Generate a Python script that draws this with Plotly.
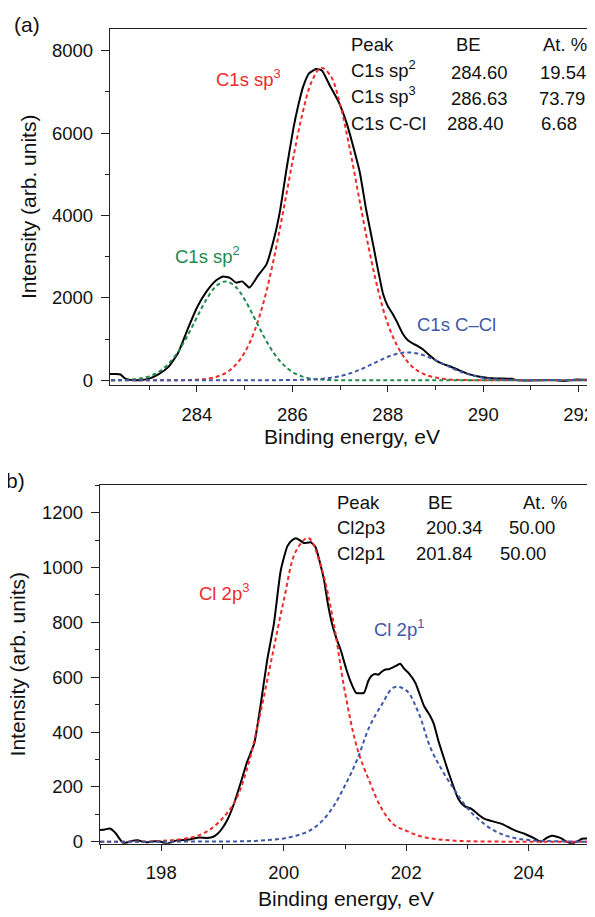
import plotly.graph_objects as go

# ---------------- Panel (a): C1s ----------------
a_obs_x = [282.18, 282.3, 282.4, 282.5, 282.6, 282.7, 282.85, 283.0, 283.2, 283.4, 283.6, 283.8,
           284.0, 284.2, 284.4, 284.55, 284.7, 284.82, 284.95, 285.1, 285.28, 285.46, 285.63, 285.74,
           285.88, 286.02, 286.12, 286.23, 286.35, 286.5, 286.62, 286.79, 286.96, 287.13, 287.27, 287.41,
           287.55, 287.7, 287.8, 287.9, 288.0, 288.1, 288.2, 288.31, 288.42, 288.52, 288.63, 288.74,
           288.88, 289.02, 289.15, 289.3, 289.5, 289.7, 289.9, 290.1, 290.3, 290.5, 290.6, 290.7,
           290.9, 291.1, 291.3, 291.5, 291.7, 291.9, 292.1, 292.32]
a_obs_y = [150, 155, 140, 40, 10, 0, 5, 40, 150, 320, 650, 1220,
           1760, 2150, 2420, 2520, 2480, 2370, 2400, 2250, 2540, 2820, 3500, 4100,
           5140, 6100, 6650, 7140, 7450, 7555, 7520, 7140, 6780, 6270, 5700, 5065,
           4120, 3250, 2650, 2100, 1800, 1615, 1400, 1135, 970, 895, 830, 745,
           600, 470, 400, 340, 240, 150, 90, 55, 45, 40, 35, 5,
           -5, 0, 5, 5, -15, 15, 15, 5]

a_fit_x = [282.2, 282.4, 282.6, 282.8, 283.0, 283.2, 283.4, 283.6, 283.8, 284.0,
           284.2, 284.4, 284.6, 284.8, 285.0, 285.2, 285.4, 285.6, 285.8, 286.0,
           286.2, 286.4, 286.6, 286.8, 287.0, 287.2, 287.4, 287.6, 287.8, 288.0,
           288.2, 288.4, 288.6, 288.8, 289.0, 289.2, 289.4, 289.6, 289.8, 290.0,
           290.2, 290.4, 290.6, 290.8, 291.0, 291.2, 291.4, 291.6, 291.8, 292.0,
           292.2, 292.32]
a_sp2 = [2, 5, 16, 41, 96, 203, 391, 681, 1072, 1525,
         1962, 2282, 2400, 2282, 1962, 1525, 1072, 681, 391, 203,
         96, 41, 16, 5, 2, 0, 0, 0, 0, 0,
         0, 0, 0, 0, 0, 0, 0, 0, 0, 0,
         0, 0, 0, 0, 0, 0, 0, 0, 0, 0,
         0, 0]
a_sp3 = [0, 0, 0, 0, 0, 0, 0, 2, 5, 14,
         35, 81, 176, 357, 671, 1173, 1905, 2881, 4047, 5282,
         6411, 7232, 7585, 7392, 6697, 5642, 4416, 3216, 2175, 1367,
         830, 470, 250, 130, 65, 30, 12, 5, 2, 0,
         0, 0, 0, 0, 0, 0, 0, 0, 0, 0,
         0, 0]
a_ccl = [0, 0, 0, 0, 0, 0, 0, 0, 0, 0,
         0, 0, 0, 0, 1, 1, 2, 3, 4, 6,
         12, 18, 33, 60, 100, 165, 250, 354, 466, 570,
         644, 675, 654, 588, 488, 376, 268, 177, 108, 61,
         32, 16, 7, 3, 1, 0, 0, 0, 0, 0,
         0, 0]

a_table_head = ["Peak", "BE", "At. %"]
a_table_peaks = ["C1s sp<sup>2</sup>", "C1s sp<sup>3</sup>", "C1s C-Cl"]
a_table_be = ["284.60", "286.63", "288.40"]
a_table_at = ["19.54", "73.79", "6.68"]

# ---------------- Panel (b): Cl 2p ----------------
b_obs_x = [197.0, 197.08, 197.16, 197.26, 197.32, 197.38, 197.46, 197.54, 197.62, 197.7,
           197.8, 197.93, 198.0, 198.08, 198.15, 198.25, 198.35, 198.46, 198.55, 198.63,
           198.75, 198.85, 198.92, 199.0, 199.08, 199.18, 199.3, 199.4, 199.52, 199.62,
           199.73, 199.84, 199.95, 200.06, 200.14, 200.2, 200.27, 200.33, 200.44, 200.52,
           200.6, 200.66, 200.72, 200.8, 200.87, 200.93, 201.02, 201.1, 201.18, 201.31,
           201.38, 201.43, 201.49, 201.54, 201.6, 201.65, 201.73, 201.82, 201.9, 201.97,
           202.04, 202.15, 202.29, 202.38, 202.45, 202.52, 202.6, 202.69, 202.85, 202.95,
           203.07, 203.17, 203.28, 203.4, 203.56, 203.72, 203.85, 203.93, 204.02, 204.1,
           204.2, 204.3, 204.38, 204.46, 204.54, 204.62, 204.7, 204.8, 204.87, 204.95, 205.0]
b_obs_y = [43, 45, 48, 30, 10, -5, -2, 4, 5, 0,
           -2, 3, 0, -8, -3, 5, 6, 8, 13, 15,
           14, 18, 29, 50, 80, 134, 217, 290, 360, 495,
           663, 796, 988, 1078, 1100, 1107, 1098, 1089, 1092, 1074,
           1010, 952, 868, 785, 735, 699, 630, 579, 543, 543,
           586, 604, 612, 609, 620, 627, 630, 640, 649, 630,
           615, 579, 495, 463, 430, 372, 315, 253, 156, 130,
           119, 100, 83, 75, 65, 47, 35, 29, 20, 11,
           0, 15, 22, 18, 11, 0, -7, 2, 11, 12, 10]

b_fit_x = [197.0, 197.2, 197.4, 197.6, 197.8, 198.0, 198.2, 198.4, 198.6, 198.8,
           199.0, 199.2, 199.4, 199.6, 199.8, 200.0, 200.2, 200.4, 200.6, 200.8,
           201.0, 201.2, 201.4, 201.6, 201.8, 202.0, 202.2, 202.4, 202.6, 202.8,
           203.0, 203.2, 203.4, 203.6, 203.8, 204.0, 204.2, 204.4, 204.6, 204.8, 205.0]
b_2p3 = [0, 0, 0, 1, 1, 3, 6, 12, 22, 45,
         85, 145, 265, 450, 665, 880, 1060, 1108, 1010, 815,
         545, 340, 220, 120, 62, 40, 22, 12, 7, 4,
         2, 1, 1, 0, 0, 0, 0, 0, 0, 0, 0]
b_2p1 = [0, 0, 0, 0, 0, 0, 0, 1, 1, 1,
         1, 1, 2, 4, 7, 12, 22, 38, 70, 125,
         205, 300, 420, 500, 563, 552, 470, 340, 255, 185,
         122, 78, 45, 24, 12, 6, 3, 2, 1, 0, 0]

b_table_head = ["Peak", "BE", "At. %"]
b_table_peaks = ["Cl2p3", "Cl2p1"]
b_table_be = ["200.34", "201.84"]
b_table_at = ["50.00", "50.00"]

# ---------------- styling ----------------
OFF = 8            # the page body has an 8px margin: compensate
W, H = 595 - OFF, 917 - OFF
FONT = "Liberation Sans, Arial, Helvetica, sans-serif"
RED = "#EE2B2B"
GREEN = "#1E8A4C"
BLUE = "#3F58A8"
AX = "#222222"
TICK = 18.5
TITLE = 21
TXT = 18.5


def px(xp):
    return (xp - OFF) / W


def py(yp):
    return 1 - (yp - OFF) / H


fig = go.Figure()

dash = "4px,3px"
fig.add_trace(go.Scatter(x=a_obs_x, y=a_obs_y, mode="lines", line=dict(color="black", width=2, shape="spline", smoothing=0.5),
                         xaxis="x", yaxis="y", showlegend=False))
fig.add_trace(go.Scatter(x=a_fit_x, y=a_sp3, mode="lines", line=dict(color=RED, width=2, dash=dash, shape="spline"),
                         xaxis="x", yaxis="y", showlegend=False))
fig.add_trace(go.Scatter(x=a_fit_x, y=a_sp2, mode="lines", line=dict(color=GREEN, width=2, dash=dash, shape="spline"),
                         xaxis="x", yaxis="y", showlegend=False))
fig.add_trace(go.Scatter(x=a_fit_x, y=a_ccl, mode="lines", line=dict(color=BLUE, width=2, dash=dash, shape="spline"),
                         xaxis="x", yaxis="y", showlegend=False))

fig.add_trace(go.Scatter(x=b_obs_x, y=b_obs_y, mode="lines", line=dict(color="black", width=2, shape="spline", smoothing=0.5),
                         xaxis="x2", yaxis="y2", showlegend=False))
fig.add_trace(go.Scatter(x=b_fit_x, y=b_2p3, mode="lines", line=dict(color=RED, width=2, dash=dash, shape="spline"),
                         xaxis="x2", yaxis="y2", showlegend=False))
fig.add_trace(go.Scatter(x=b_fit_x, y=b_2p1, mode="lines", line=dict(color=BLUE, width=2, dash=dash, shape="spline"),
                         xaxis="x2", yaxis="y2", showlegend=False))


def xax(domain, rng, anchor):
    return dict(domain=domain, range=rng, anchor=anchor, showgrid=False, zeroline=False,
                showline=True, linecolor=AX, linewidth=1.3, mirror=True,
                ticks="outside", ticklen=6, tickwidth=1.2, tickcolor=AX, dtick=2, tick0=0,
                tickfont=dict(family=FONT, size=TICK, color="#111"), ticklabelstandoff=6,
                minor=dict(dtick=1, tick0=0, ticks="outside", ticklen=4, tickwidth=1.2, tickcolor=AX))


def yax(domain, rng, anchor, dt, mdt):
    return dict(domain=domain, range=rng, anchor=anchor, showgrid=False, zeroline=False,
                showline=True, linecolor=AX, linewidth=1.3, mirror=True,
                ticks="outside", ticklen=8, tickwidth=1.2, tickcolor=AX, dtick=dt, tick0=0,
                tickfont=dict(family=FONT, size=TICK, color="#111"), ticklabelstandoff=4,
                minor=dict(dtick=mdt, tick0=0, ticks="outside", ticklen=4, tickwidth=1.2, tickcolor=AX))


fig.update_layout(
    width=W, height=H, margin=dict(l=0, r=0, t=0, b=0),
    paper_bgcolor="white", plot_bgcolor="white",
    font=dict(family=FONT, color="#111"),
    xaxis=xax([px(110), px(594)], [282.18, 292.32], "y"),
    yaxis=yax([py(389), py(29)], [-120, 8530], "x", 2000, 1000),
    xaxis2=xax([px(100), px(590)], [197.0, 205.0], "y2"),
    yaxis2=yax([py(852), py(490)], [-7, 1300], "x2", 200, 100),
)

ann = []


def txt(text, x, y, xref, yref, color="#111", size=TXT, xanchor="left", yanchor="middle", angle=0):
    ann.append(dict(text=text, x=x, y=y, xref=xref, yref=yref, showarrow=False, xanchor=xanchor,
                    yanchor=yanchor, textangle=angle, font=dict(family=FONT, size=size, color=color)))


# panel letters and axis titles
txt("(a)", px(27), py(25), "paper", "paper", size=TITLE, xanchor="center")
txt("(b)", px(12), py(485), "paper", "paper", size=TITLE, xanchor="center")
txt("Binding energy, eV", px(352), py(441), "paper", "paper", size=TITLE, xanchor="center")
txt("Binding energy, eV", px(346), py(907), "paper", "paper", size=TITLE, xanchor="center")
txt("Intensity (arb. units)", px(28), py(209), "paper", "paper", size=TITLE, xanchor="center", angle=-90)
txt("Intensity (arb. units)", px(17), py(671), "paper", "paper", size=TITLE, xanchor="center", angle=-90)

# panel (a) peak labels
txt("C1s sp<sup>3</sup>", 284.36, 7330, "x", "y", color=RED)
txt("C1s sp<sup>2</sup>", 283.50, 3050, "x", "y", color=GREEN)
txt("C1s C–Cl", 288.57, 1345, "x", "y", color=BLUE)

# panel (a) table
a_rows_y = [7467, 6843, 6243]
a_be_x = [289.28, 289.28, 289.19]
a_at_x = [291.14, 291.12, 291.16]
txt(a_table_head[0], 287.18, 8139, "x", "y")
txt(a_table_head[1], 289.38, 8139, "x", "y")
txt(a_table_head[2], 291.21, 8139, "x", "y")
for i in range(3):
    yy = a_rows_y[i] + (90 if "<sup>" in a_table_peaks[i] else 0)
    txt(a_table_peaks[i], 287.18, yy, "x", "y")
    txt(a_table_be[i], a_be_x[i], a_rows_y[i], "x", "y")
    txt(a_table_at[i], a_at_x[i], a_rows_y[i], "x", "y")

# panel (b) peak labels
txt("Cl 2p<sup>3</sup>", 198.59, 912, "x2", "y2", color=RED)
txt("Cl 2p<sup>1</sup>", 201.44, 778, "x2", "y2", color=BLUE)

# panel (b) table
b_rows_y = [1146, 1052]
b_be_x = [202.29, 202.13]
b_at_x = [203.65, 203.49]
txt(b_table_head[0], 200.83, 1237, "x2", "y2")
txt(b_table_head[1], 202.32, 1237, "x2", "y2")
txt(b_table_head[2], 203.87, 1237, "x2", "y2")
for i in range(2):
    txt(b_table_peaks[i], 200.83, b_rows_y[i], "x2", "y2")
    txt(b_table_be[i], b_be_x[i], b_rows_y[i], "x2", "y2")
    txt(b_table_at[i], b_at_x[i], b_rows_y[i], "x2", "y2")

fig.update_layout(annotations=ann)
fig.write_html("out.html")
